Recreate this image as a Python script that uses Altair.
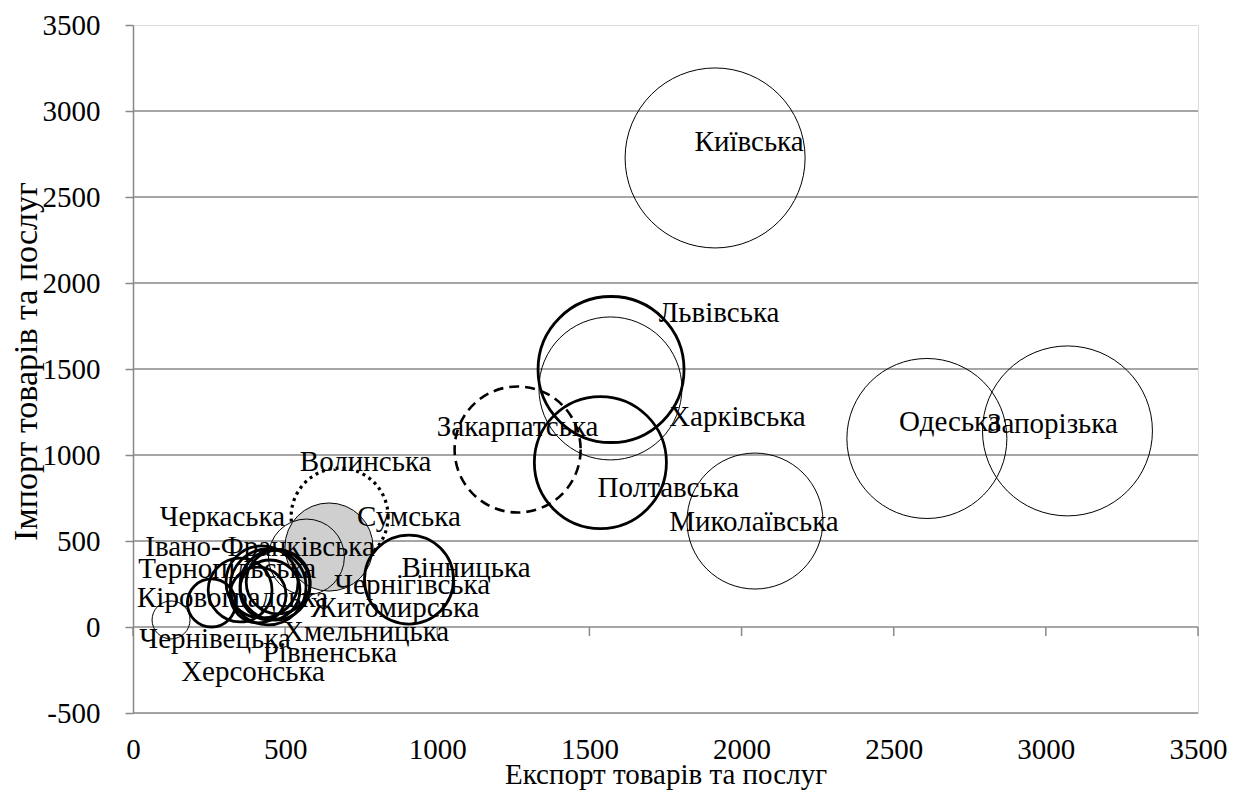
import altair as alt
import pandas as pd

regions = ["Київська", "Львівська", "Харківська", "Одеська", "Запорізька",
           "Миколаївська", "Полтавська", "Закарпатська", "Волинська", "Сумська",
           "Черкаська", "Вінницька", "Івано-Франківська", "Тернопільська",
           "Кіровоградська", "Чернівецька", "Херсонська", "Рівненська",
           "Хмельницька", "Житомирська", "Чернігівська"]
export_vals = [1913, 1571, 1569, 2609, 3071, 2044, 1536, 1264, 679, 644,
               570, 907, 424, 352, 258, 125, 411, 450, 467, 444, 477]
import_vals = [2727, 1497, 1387, 1096, 1140, 616, 956, 1032, 642, 465,
               407, 276, 262, 215, 140, 41, 186, 215, 244, 233, 262]
bubble_vals = [810, 533, 511, 640, 722, 462, 436, 397, 235, 194,
               144, 198, 130, 102, 58, 36, 78, 90, 123, 144, 102]
line_style = ["thin", "thick", "thin", "thin", "thin", "thin", "thick", "dashed",
              "dotted", "filled", "thin", "thick", "thick", "thick", "thick",
              "thin", "thick", "thick", "thick", "thick", "thick"]
# data-label offsets from the bubble centre (pixels)
label_dx = [34, 108, 127, 23, -15, -1, 68, 0, 26, 80, -84, 57, -2, -13, 21,
            44, -5, 60, 91, 127, 134]
label_dy = [-16, -57, 29, -16, -7, 1, 25, -22, -55, -30, -40, -12, -35, -21,
            -5, 19, 77, 63, 47, 21, 3]

x_ticks = [0, 500, 1000, 1500, 2000, 2500, 3000, 3500]
y_ticks = [-500, 0, 500, 1000, 1500, 2000, 2500, 3000, 3500]
grid_vals = [-500, 500, 1000, 1500, 2000, 2500, 3000]

W, H = 1065, 688
X_DOM = [0, 3500]
Y_DOM = [-500, 3500]
FONT = "Liberation Serif"
GRAY = "#898989"

df = pd.DataFrame({
    "region": regions, "export": export_vals, "import": import_vals,
    "bubble": bubble_vals, "style": line_style,
    "dx": label_dx, "dy": label_dy,
})
df["order"] = range(len(df))
df["lx"] = df["export"] + df["dx"] * (X_DOM[1] - X_DOM[0]) / W
df["ly"] = df["import"] - df["dy"] * (Y_DOM[1] - Y_DOM[0]) / H

xs = alt.Scale(domain=X_DOM, nice=False, zero=False)
ys = alt.Scale(domain=Y_DOM, nice=False, zero=False)
size_scale = alt.Scale(domain=[0, 810], range=[0, 32400])

x_axis = alt.Axis(title="Експорт товарів та послуг", values=x_ticks, grid=False,
                  domain=False, ticks=False, labelPadding=22, labelFont=FONT,
                  labelFontSize=29, labelColor="black", titleFont=FONT,
                  titleFontSize=29, titleFontWeight="normal", titleColor="black",
                  titleY=70, titleBaseline="alphabetic", labelFlush=False,
                  labelExpr="'' + datum.value")
y_axis = alt.Axis(title="Імпорт товарів та послуг", values=y_ticks, grid=False,
                  domainColor=GRAY, domainWidth=1.5,
                  tickColor=GRAY, tickWidth=1.5, tickSize=8, labelPadding=25,
                  labelFont=FONT, labelFontSize=29, labelColor="black",
                  titleFont=FONT, titleFontSize=34, titleFontWeight="normal",
                  titleColor="black", titleX=-107, titleY=336,
                  titleBaseline="middle",
                  labelFlush=False, labelExpr="'' + datum.value")

grid_df = pd.DataFrame({"g": grid_vals, "x0": X_DOM[0], "x1": X_DOM[1]})
grid = alt.Chart(grid_df).mark_rule(color=GRAY, strokeWidth=1.5).encode(
    x=alt.X("x0:Q", scale=xs, axis=x_axis),
    x2="x1:Q",
    y=alt.Y("g:Q", scale=ys, axis=y_axis),
)

zero_df = pd.DataFrame({"x0": [X_DOM[0]], "x1": [X_DOM[1]], "y0": [0]})
zero_line = alt.Chart(zero_df).mark_rule(color=GRAY, strokeWidth=1.5).encode(
    x=alt.X("x0:Q", scale=xs, axis=x_axis),
    x2="x1:Q",
    y=alt.Y("y0:Q", scale=ys, axis=y_axis),
)

tick_df = pd.DataFrame({"t": x_ticks})
zero_ticks = alt.Chart(tick_df).mark_tick(orient="vertical", size=9, yOffset=4.5,
                                          color=GRAY, thickness=1.5, opacity=1).encode(
    x=alt.X("t:Q", scale=xs, axis=x_axis),
    y=alt.Y(datum=0, scale=ys, axis=y_axis),
)


def bubble_layer(style, width, dash=None, fill=None):
    props = dict(shape="circle", stroke="black", strokeWidth=width,
                 opacity=1, strokeOpacity=1)
    if dash:
        props["strokeDash"] = dash
    if fill:
        props.update(filled=True, fill=fill, fillOpacity=1)
    else:
        props.update(filled=False)
    return alt.Chart(df).transform_filter(
        alt.datum.style == style
    ).mark_point(**props).encode(
        x=alt.X("export:Q", scale=xs, axis=x_axis),
        y=alt.Y("import:Q", scale=ys, axis=y_axis),
        size=alt.Size("bubble:Q", scale=size_scale, legend=None),
        order=alt.Order("order:Q"),
    )


dashed = bubble_layer("dashed", 2.6, dash=[10, 6])
dotted = bubble_layer("dotted", 3.2, dash=[3, 4])
filled = bubble_layer("filled", 1, fill="#cfcfcf")
thin = bubble_layer("thin", 1)
thick = bubble_layer("thick", 2.8)

labels = alt.Chart(df).mark_text(font=FONT, fontSize=29, color="black",
                                 align="center", baseline="middle").encode(
    x=alt.X("lx:Q", scale=xs, axis=x_axis),
    y=alt.Y("ly:Q", scale=ys, axis=y_axis),
    text="region:N",
)

chart = alt.layer(grid, zero_line, zero_ticks, dashed, dotted, filled, thin,
                  thick, labels).properties(
    width=W, height=H,
    autosize=alt.AutoSizeParams(type="none"),
    padding={"left": 125, "top": 17, "right": 33, "bottom": 80},
).configure_view(stroke=None).configure(background="white")

chart.save("out.html", embed_options={"renderer": "svg", "actions": False})
